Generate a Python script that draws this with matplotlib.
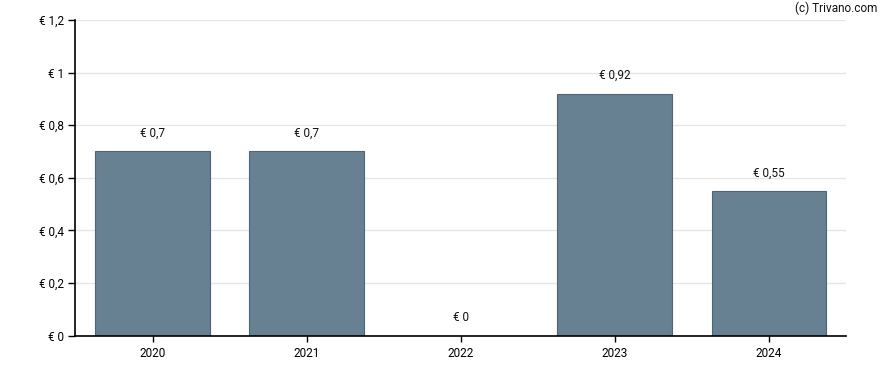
import matplotlib.pyplot as plt

years = ["2020", "2021", "2022", "2023", "2024"]
dividends = [0.7, 0.7, 0.0, 0.92, 0.55]
labels = ["€ 0,7", "€ 0,7", "€ 0", "€ 0,92", "€ 0,55"]
yticks = [0, 0.2, 0.4, 0.6, 0.8, 1.0, 1.2]
ytick_labels = ["€ 0", "€ 0,2", "€ 0,4", "€ 0,6", "€ 0,8", "€ 1", "€ 1,2"]

plt.rcParams['font.family'] = ['Roboto', 'DejaVu Sans']

fig = plt.figure(figsize=(8.88, 3.70), dpi=100)
ax = fig.add_axes([0.085, 0.0932, 0.8677, 0.8527])

ax.set_axisbelow(True)
ax.yaxis.grid(True, color="#e6e6e6", linewidth=1)
x = range(len(years))
ax.bar(x, dividends, width=0.745, color="#647f91", edgecolor="#4b6374",
       linewidth=0.8, alpha=0.98)

for i, (v, lab) in enumerate(zip(dividends, labels)):
    ax.annotate(lab, (i, v), xytext=(0, 13), textcoords="offset points",
                ha="center", va="center", fontsize=8.5, color="#111111")

ax.set_xlim(-0.5, len(years) - 0.5)
ax.set_ylim(0, 1.2)
ax.set_xticks(list(x))
ax.set_xticklabels(years, fontsize=8.5)
ax.set_yticks(yticks)
ax.set_yticklabels(ytick_labels, fontsize=8.5)
ax.tick_params(axis="y", length=5, width=1, pad=3)
ax.tick_params(axis="x", length=4, width=1, pad=4)
for s in ["top", "right"]:
    ax.spines[s].set_visible(False)
for s in ["left", "bottom"]:
    ax.spines[s].set_linewidth(1.2)

fig.text(0.988, 0.978, "(c) Trivano.com", ha="right", va="center", fontsize=8.5,
         color="#111111")

fig.savefig("out.png", dpi=100)
